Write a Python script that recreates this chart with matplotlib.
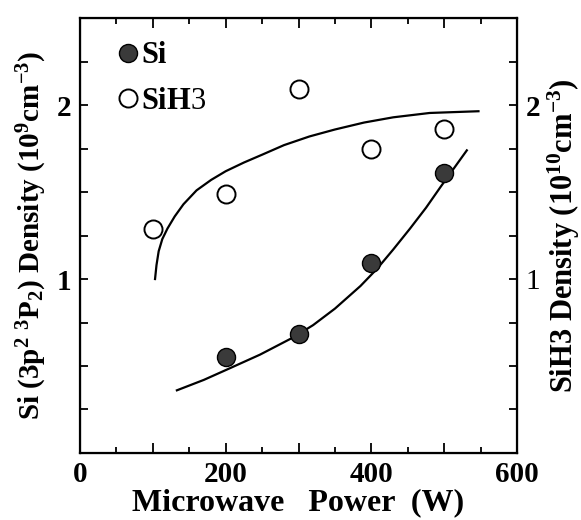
import matplotlib
matplotlib.use("Agg")
import matplotlib.pyplot as plt
from matplotlib.ticker import FixedLocator, FixedFormatter

plt.rcParams['font.family'] = ['Liberation Serif', 'DejaVu Serif']
plt.rcParams['font.weight'] = 'bold'
plt.rcParams['axes.labelweight'] = 'bold'
plt.rcParams['mathtext.fontset'] = 'custom'
plt.rcParams['mathtext.rm'] = 'Liberation Serif:normal'
plt.rcParams['mathtext.bf'] = 'Liberation Serif:bold'
plt.rcParams['mathtext.default'] = 'bf'

# measured points
power = [100, 200, 300, 400, 500]
si_power = [200, 300, 400, 500]
si_density = [0.55, 0.685, 1.09, 1.61]          # 10^9 cm^-3
sih3_density = [1.29, 1.49, 2.09, 1.745, 1.86]  # 10^10 cm^-3

sih3_fit_x = [103, 105, 108, 113, 120, 130, 142, 160, 180, 200, 225, 250,
              280, 315, 350, 390, 430, 480, 547]
sih3_fit_y = [1.00, 1.08, 1.16, 1.23, 1.29, 1.36, 1.43, 1.51, 1.57, 1.62,
              1.67, 1.715, 1.77, 1.82, 1.86, 1.90, 1.93, 1.955, 1.965]
si_fit_x = [133, 170, 202, 247, 293, 320, 350, 385, 408, 430, 453, 475,
            495, 531]
si_fit_y = [0.36, 0.42, 0.48, 0.565, 0.665, 0.735, 0.83, 0.96, 1.06, 1.17,
            1.29, 1.41, 1.53, 1.74]

x_ticks = [0, 100, 200, 300, 400, 500, 600]
x_labels = ['0', '', '200', '', '400', '', '600']
x_minor = [50, 150, 250, 350, 450, 550]
y_ticks = [0.25, 0.5, 0.75, 1, 1.25, 1.5, 1.75, 2, 2.25]
y_labels = ['', '', '', '1', '', '', '', '2', '']

fig = plt.figure(figsize=(5.81, 5.2), dpi=100)
ax = fig.add_axes([0.1377, 0.129, 0.7523, 0.836])

ax.plot(sih3_fit_x, sih3_fit_y, color='black', lw=1.6)
ax.plot(si_fit_x, si_fit_y, color='black', lw=1.6)
ax.plot(si_power, si_density, 'o', ms=13, mfc='#3a3a3a', mec='black', mew=1.0,
        label='Si')
ax.plot(power, sih3_density, 'o', ms=13, mfc='white', mec='black', mew=1.4,
        label=r'$\mathbf{SiH}\mathrm{3}$')

ax.set_xlim(0, 600)
ax.set_ylim(0, 2.5)
ax.xaxis.set_major_locator(FixedLocator(x_ticks))
ax.xaxis.set_major_formatter(FixedFormatter(x_labels))
ax.xaxis.set_minor_locator(FixedLocator(x_minor))
ax.yaxis.set_major_locator(FixedLocator(y_ticks))
ax.yaxis.set_major_formatter(FixedFormatter(y_labels))
ax.tick_params(axis='x', which='major', direction='in', top=True, length=7,
               width=1.3, labelsize=21, pad=6)
ax.tick_params(axis='x', which='minor', direction='in', top=True, length=4,
               width=1.3)
ax.tick_params(axis='y', which='major', direction='in', length=6, width=1.3,
               labelsize=21, pad=6)
for s in ax.spines.values():
    s.set_linewidth(1.6)

ax2 = ax.twinx()
ax2.set_ylim(ax.get_ylim())
ax2.yaxis.set_major_locator(FixedLocator(y_ticks))
ax2.yaxis.set_major_formatter(FixedFormatter(y_labels))
ax2.tick_params(axis='y', direction='in', length=6, width=1.3, labelsize=21,
                pad=6)
ax2.get_yticklabels()[3].set_fontweight('normal')

ax.set_xlabel('Microwave   Power  (W)', fontsize=23, labelpad=0)
ax.set_ylabel(r'Si (3p$^{2}$ $^{3}$P$_{2}$) Density (10$^{9}$cm$^{-3}$)',
              fontsize=21, labelpad=6)
ax2.set_ylabel(r'SiH3 Density (10$^{10}$cm$^{-3}$)', fontsize=22, labelpad=4)

ax.legend(loc='upper left', bbox_to_anchor=(0.06, 0.975), frameon=False,
          fontsize=22, handlelength=0.6, handletextpad=0.15, labelspacing=0.55,
          borderaxespad=0)

fig.savefig('out.png', dpi=100)
